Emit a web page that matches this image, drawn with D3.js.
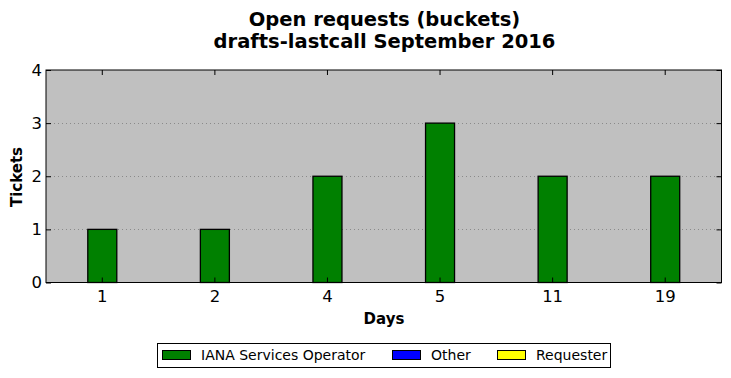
<!DOCTYPE html>
<html><head><meta charset="utf-8">
<script src="https://cdn.jsdelivr.net/npm/d3@7"></script>
<style>body{margin:0;background:#fff}svg{display:block;font-family:"DejaVu Sans",sans-serif}</style>
</head><body><svg id="c" width="731" height="378"></svg>
<script>
const categories = ["1","2","4","5","11","19"];
const ianaValues = [1,1,2,3,2,2];
const otherValues = [0,0,0,0,0,0];
const requesterValues = [0,0,0,0,0,0];
const yTicks = [0,1,2,3,4];
const titleLines = ["Open requests (buckets)","drafts-lastcall September 2016"];
const legendItems = [{name:"IANA Services Operator",color:"#008000"},{name:"Other",color:"#0000ff"},{name:"Requester",color:"#ffff00"}];

const svg = d3.select("#c");
const m = {l:46,r:721.5,t:70,b:282.5};
const x = d3.scaleBand().domain(categories).range([m.l,m.r]);
const y = d3.scaleLinear().domain([0,4]).range([m.b,m.t]);

svg.append("rect").attr("x",m.l).attr("y",m.t).attr("width",m.r-m.l).attr("height",m.b-m.t).attr("fill","#c0c0c0");
// grid
svg.append("g").selectAll("line").data(yTicks.filter(d=>d>0&&d<4)).join("line")
  .attr("x1",m.l).attr("x2",m.r).attr("y1",d=>Math.round(y(d))+0.5).attr("y2",d=>Math.round(y(d))+0.5)
  .attr("stroke","#8a8a8a").attr("stroke-width",1).attr("stroke-dasharray","1,3");

const bw = 29;
function bars(vals,color){
  svg.append("g").selectAll("rect").data(categories.map((c,i)=>({c,v:vals[i]})).filter(d=>d.v>0)).join("rect")
    .attr("x",d=>x(d.c)+x.bandwidth()/2-bw/2).attr("width",bw)
    .attr("y",d=>y(d.v)).attr("height",d=>y(0)-y(d.v))
    .attr("fill",color).attr("stroke","#000").attr("stroke-width",1.3);
}
bars(ianaValues,"#008000");
bars(otherValues,"#0000ff");
bars(requesterValues,"#ffff00");

// axes
const xb = d3.axisBottom(x).tickSizeInner(-5).tickSizeOuter(0).tickPadding(7.5);
const xt = d3.axisTop(x).tickSizeInner(-5).tickSizeOuter(0).tickFormat("");
const yl = d3.axisLeft(y).tickValues(yTicks).tickSizeInner(-5).tickSizeOuter(0).tickPadding(4).tickFormat(d3.format("d"));
const yr = d3.axisRight(y).tickValues(yTicks).tickSizeInner(-5).tickSizeOuter(0).tickFormat("");
function style(g){g.select(".domain").remove();g.selectAll("text").attr("font-size",16.5).attr("fill","#000").attr("font-family","DejaVu Sans");g.selectAll("line").attr("stroke","#000");}
svg.append("g").attr("transform",`translate(0,${m.b})`).call(xb).call(style);
svg.append("g").attr("transform",`translate(0,${m.t})`).call(xt).call(style);
svg.append("g").attr("transform",`translate(${m.l},0)`).call(yl).call(style);
svg.append("g").attr("transform",`translate(${m.r},0)`).call(yr).call(style);
svg.append("rect").attr("x",m.l).attr("y",m.t).attr("width",m.r-m.l).attr("height",m.b-m.t).attr("fill","none").attr("stroke","#000").attr("stroke-width",1);

// titles
svg.append("text").attr("x",384.5).attr("y",26).attr("text-anchor","middle").attr("font-size",19.5).attr("font-weight","bold").text(titleLines[0]);
svg.append("text").attr("x",384.5).attr("y",48).attr("text-anchor","middle").attr("font-size",19.5).attr("font-weight","bold").text(titleLines[1]);
svg.append("text").attr("x",384).attr("y",324).attr("text-anchor","middle").attr("font-size",15).attr("font-weight","bold").text("Days");
svg.append("text").attr("transform","translate(22,177) rotate(-90)").attr("text-anchor","middle").attr("font-size",15).attr("font-weight","bold").text("Tickets");

// legend
const lg = svg.append("g");
lg.append("rect").attr("x",157.5).attr("y",343.5).attr("width",453).attr("height",24).attr("fill","#fff").attr("stroke","#000");
const lx = [162,392,497];
legendItems.forEach((it,i)=>{
  lg.append("rect").attr("x",lx[i]+0.5).attr("y",350.5).attr("width",28).attr("height",9).attr("fill",it.color).attr("stroke","#000");
  lg.append("text").attr("x",lx[i]+39).attr("y",360).attr("font-size",14).text(it.name);
});
</script></body></html>
